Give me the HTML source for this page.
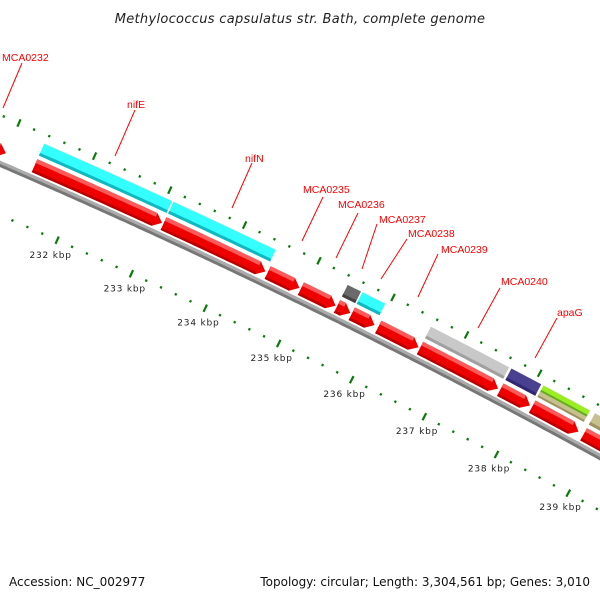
<!DOCTYPE html>
<html><head><meta charset="utf-8"><style>
html,body{margin:0;padding:0;background:#fff;}
svg{display:block;font-family:"Liberation Sans","DejaVu Sans",sans-serif;}
</style></head><body>
<svg id="chart" width="600" height="600" viewBox="0 0 600 600">
<text x="300" y="23" text-anchor="middle" font-size="13" font-style="italic" fill="#222" style="font-family:'DejaVu Sans',sans-serif;letter-spacing:0.3px">Methylococcus capsulatus str. Bath, complete genome</text>
<g id="map"></g>
<text x="9" y="586" font-size="12" fill="#111" style="font-family:'DejaVu Sans',sans-serif">Accession: NC_002977</text>
<text x="590" y="586" font-size="12" fill="#111" text-anchor="end" style="font-family:'DejaVu Sans',sans-serif">Topology: circular; Length: 3,304,561 bp; Genes: 3,010</text>
</svg>
<script>
// data (kbp)
const cdsStarts = [229.5,231.38,233.1,234.5,234.95,235.44,235.64,236.0,236.57,237.67,238.11,238.82];
const cdsEnds   = [231.0,233.08,234.47,234.93,235.42,235.62,235.95,236.55,237.64,238.08,238.75,240.0];
const cogStarts = [231.38,233.1,235.44,235.64,236.57,237.67,238.11,238.82];
const cogEnds   = [233.08,234.47,235.62,235.95,237.64,238.08,238.75,240.0];
const cogCats   = ["cyan","cyan","darkgray","cyan","lightgray","purple","green-khaki","khaki"];
const tickLabels = [232,233,234,235,236,237,238,239];
const geneLabels = ["MCA0232","nifE","nifN","MCA0235","MCA0236","MCA0237","MCA0238","MCA0239","MCA0240","apaG"];
const geneLabelX = [2,127,245,303,338,379,408,441,501,557];
const geneLabelY = [61,108,162,193,208,223,237,253,285,316];
const leaderX1 = [22,135,252,323,358,377,407,438,500,557];
const leaderY1 = [63,110,163,197,213,224,239,254,288,318];
const leaderX2 = [3,115,232,302,336,362,381,418,478,535];
const leaderY2 = [108,156,208,241,258,269,279,297,328,358];

const NS="http://www.w3.org/2000/svg";
const map=document.getElementById('map');
const CX=-2790, CY=6635;
function th(k){return (24+0.667*(k-232))*Math.PI/180;}
function pt(k,r){const t=th(k);return [CX+r*Math.sin(t), CY-r*Math.cos(t)];}
function band(k1,k2,r1,r2,tip){
  const pts=[];const n=Math.max(2,Math.ceil((k2-k1)/0.05));
  const ke=tip?k2-tip:k2;
  for(let i=0;i<=n;i++){const k=k1+(ke-k1)*i/n;pts.push(pt(k,r2));}
  if(tip)pts.push(pt(k2,(r1+r2)/2));
  for(let i=n;i>=0;i--){const k=k1+(ke-k1)*i/n;pts.push(pt(k,r1));}
  return pts.map(p=>p[0].toFixed(1)+','+p[1].toFixed(1)).join(' ');
}
function poly(pts,fill,name){
  const p=document.createElementNS(NS,'polygon');
  p.setAttribute('points',pts);p.setAttribute('fill',fill);
  
  
  map.appendChild(p);return p;
}
// backbone
poly(band(228,241,7047,7050,0),'#aaa','backbone');
poly(band(228,241,7044,7047,0),'#777','backbone-shadow');
// tick rings
for(let i=0;i<=60;i++){
  const k=229+i*0.2;const major=(i%5===0);
  [[7000,'inner'],[7092,'outer']].forEach(([r,w])=>{
    const len=major?4:1.2;
    const a=pt(k,r-len),b=pt(k,r+len);
    const l=document.createElementNS(NS,'line');
    l.setAttribute('x1',a[0]);l.setAttribute('y1',a[1]);l.setAttribute('x2',b[0]);l.setAttribute('y2',b[1]);
    l.setAttribute('stroke','#0a7a0a');l.setAttribute('stroke-width','2.2');
    
    
    map.appendChild(l);
  });
}
tickLabels.forEach(k=>{
  const p=pt(k,6984);
  const t=document.createElementNS(NS,'text');
  t.setAttribute('x',p[0]);t.setAttribute('y',p[1]+3);t.setAttribute('text-anchor','middle');
  t.setAttribute('font-size','9');t.setAttribute('fill','#222');
  t.setAttribute('style',"font-family:'DejaVu Sans',sans-serif;letter-spacing:0.8px");
  t.textContent=k+' kbp';
  
  
  map.appendChild(t);
});
// CDS arrows
cdsStarts.forEach((s,i)=>{
  const e=cdsEnds[i];
  poly(band(s,e,7052,7066,0.1),'#ee0000','cds-arrow');
  poly(band(s,e-0.1,7062,7066,0),'#ff5a5a','cds-highlight');
  poly(band(s,e-0.1,7052,7054.5,0),'#b80000','cds-shadow');
});
// COG bars
const cols={cyan:['#33ffff','#10b8c0'],darkgray:['#6a6a6a','#444'],lightgray:['#c8c8c8','#a0a0a0'],purple:['#4a4090','#302870'],green:['#99ee22','#66aa22'],khaki:['#c8c090','#9c9460']};
cogStarts.forEach((s,i)=>{
  const e=cogEnds[i],c=cogCats[i];
  if(c==='green-khaki'){
    poly(band(s,e,7070,7076,0),cols.khaki[0],'cog-bar');
    poly(band(s,e,7070,7072,0),cols.khaki[1],'cog-bar-shadow');
    poly(band(s,e,7076,7083,0),cols.green[0],'cog-bar');
    poly(band(s,e,7076,7078,0),cols.green[1],'cog-bar-shadow');
  } else {
    poly(band(s,e,7070,7083,0),cols[c][0],'cog-bar');
    poly(band(s,e,7070,7073,0),cols[c][1],'cog-bar-shadow');
  }
});
// gene labels
geneLabels.forEach((g,i)=>{
  const l=document.createElementNS(NS,'line');
  l.setAttribute('x1',leaderX1[i]);l.setAttribute('y1',leaderY1[i]);l.setAttribute('x2',leaderX2[i]);l.setAttribute('y2',leaderY2[i]);
  l.setAttribute('stroke','#ff0000');l.setAttribute('stroke-width','1');
  
  
  map.appendChild(l);
  const t=document.createElementNS(NS,'text');
  t.setAttribute('x',geneLabelX[i]);t.setAttribute('y',geneLabelY[i]);
  t.setAttribute('font-size','10.5');t.setAttribute('fill','#ff0000');
  t.textContent=g;
  
  
  map.appendChild(t);
});
</script>
</body></html>
